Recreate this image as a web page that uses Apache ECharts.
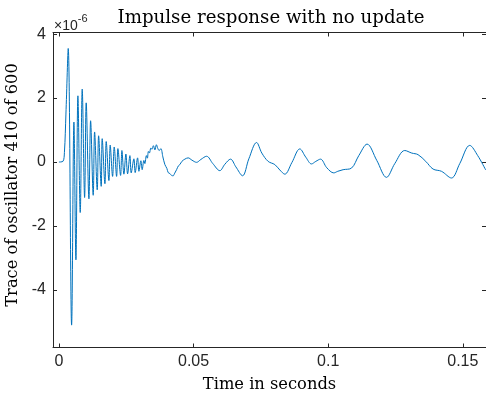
<!DOCTYPE html>
<html>
<head>
<meta charset="utf-8">
<script src="https://cdn.jsdelivr.net/npm/echarts@6/dist/echarts.min.js"></script>
<style>html,body{margin:0;padding:0;background:#fff;}#c{width:486px;height:393px;}</style>
</head>
<body>
<div id="c"></div>
<script>
// time (s)
var timeS = [0,0.00148,0.00204,0.00260,0.00345,0.00471,0.00557,0.00631,0.00705,0.00791,0.00865,0.00954,0.01013,0.01114,0.01177,0.01273,0.01325,0.01422,0.01474,0.01570,0.01607,0.01708,0.01756,0.01856,0.01904,0.01993,0.02053,0.02142,0.02190,0.02290,0.02339,0.02413,0.02487,0.02550,0.02636,0.02684,0.02784,0.02832,0.02921,0.02970,0.03044,0.03092,0.03155,0.03192,0.03248,0.03285,0.03322,0.03359,0.03415,0.03452,0.03508,0.03564,0.03619,0.03675,0.03723,0.03786,0.03860,0.03935,0.04009,0.04057,0.04120,0.04183,0.04243,0.04287,0.04369,0.04436,0.04492,0.04566,0.04677,0.04800,0.04937,0.05111,0.05271,0.05483,0.05716,0.05976,0.06162,0.06373,0.06570,0.06819,0.07053,0.07339,0.07535,0.07769,0.08018,0.08204,0.08389,0.08649,0.08946,0.09169,0.09380,0.09540,0.09714,0.09948,0.10208,0.10356,0.10553,0.10865,0.11136,0.11444,0.11804,0.12164,0.12472,0.12844,0.13103,0.13337,0.13623,0.13894,0.14206,0.14577,0.14885,0.15256,0.15553,0.15850];
// trace value, in units of 1e-6
var traceE6 = [0,0.02,0.3,1.5,3.55,-5.1,1.25,-3.06,2.07,-1.58,2.28,-1.11,1.85,-1.15,1.29,-1.04,0.94,-0.87,0.82,-0.76,0.73,-0.68,0.64,-0.58,0.53,-0.45,0.47,-0.45,0.42,-0.42,0.36,-0.38,0.25,-0.37,0.2,-0.34,0.1,-0.33,0.13,-0.29,0.04,-0.24,0.05,-0.05,0.2,0.12,0.33,0.28,0.44,0.4,0.51,0.38,0.54,0.42,0.36,0.42,0.16,-0.08,-0.2,-0.33,-0.36,-0.42,-0.43,-0.37,-0.24,-0.12,-0.08,0.02,0.09,0.13,0.06,-0.01,0.08,0.18,-0.05,-0.27,-0.07,0.09,-0.15,-0.43,0.1,0.61,0.28,0.02,-0.08,-0.25,-0.38,-0.02,0.41,0.15,-0.06,0.02,0.09,-0.18,-0.34,-0.29,-0.24,-0.19,0.2,0.56,0.05,-0.48,-0.05,0.36,0.28,0.23,0.02,-0.22,-0.29,-0.5,-0.05,0.52,0.2,-0.25];
var xTicks = [0, 0.05, 0.1, 0.15];
var yTicks = [-4, -2, 0, 2, 4];
var titleText = 'Impulse response with no update';
var xLabel = 'Time in seconds';
var yLabel = 'Trace of oscillator 410 of 600';

var pts = timeS.map(function (t, i) { return [t, traceE6[i]]; });
var axisColor = '#262626';
var chart = echarts.init(document.getElementById('c'), null, {renderer: 'canvas'});
var serif = 'DejaVu Serif';
var sans = 'Liberation Sans';
function tickAxis(extra) {
  return Object.assign({
    type: 'value',
    axisLine: {show: true, onZero: false, lineStyle: {color: axisColor, width: 1}},
    axisTick: {show: true, inside: true, length: 4, lineStyle: {color: axisColor}},
    splitLine: {show: false},
    axisLabel: {show: false}
  }, extra);
}
chart.setOption({
  animation: false,
  backgroundColor: '#fff',
  title: {
    text: titleText, left: 266, top: 4, textAlign: 'center',
    textStyle: {fontFamily: serif, fontSize: 18.2, fontWeight: 'normal', color: '#000'}
  },
  grid: {left: 53, top: 32.5, width: 433, height: 315, containLabel: false, outerBoundsMode: 'none'},
  xAxis: [
    tickAxis({
      position: 'bottom', min: -0.0022, max: 0.1586,
      axisTick: {show: true, inside: true, length: 4, customValues: xTicks, lineStyle: {color: axisColor}},
      axisLabel: {show: true, customValues: xTicks, margin: 6, color: axisColor, fontFamily: sans, fontSize: 16,
        formatter: function (v) { return String(v); }},
      name: xLabel, nameLocation: 'middle', nameGap: 29,
      nameTextStyle: {fontFamily: serif, fontSize: 16.3, color: '#000'}
    }),
    tickAxis({
      position: 'top', min: -0.0022, max: 0.1586,
      axisTick: {show: true, inside: true, length: 4, customValues: xTicks, lineStyle: {color: axisColor}}
    })
  ],
  yAxis: [
    tickAxis({
      position: 'left', min: -5.8, max: 4.05,
      axisTick: {show: true, inside: true, length: 4, customValues: yTicks, lineStyle: {color: axisColor}},
      axisLabel: {show: true, customValues: yTicks, margin: 7, color: axisColor, fontFamily: sans, fontSize: 16,
        formatter: function (v) { return String(v); }},
      name: yLabel, nameLocation: 'middle', nameGap: 23, nameRotate: 90,
      nameTextStyle: {fontFamily: serif, fontSize: 16.3, color: '#000', padding: [0, 0, 0, 10]}
    }),
    tickAxis({
      position: 'right', min: -5.8, max: 4.05,
      axisTick: {show: true, inside: true, length: 4, customValues: yTicks, lineStyle: {color: axisColor}}
    })
  ],
  graphic: [{
    type: 'text', left: 54, top: 13,
    style: {
      text: '{a|×10}{b|-6}',
      rich: {
        a: {fontFamily: sans, fontSize: 14, fill: axisColor, padding: [6, 0, 0, 0]},
        b: {fontFamily: sans, fontSize: 11, fill: axisColor, verticalAlign: 'top'}
      }
    }
  }],
  series: [{
    type: 'line', xAxisIndex: 0, yAxisIndex: 0,
    data: pts, showSymbol: false, smooth: 0.35,
    lineStyle: {color: '#0072BD', width: 1},
    clip: true
  }]
});
</script>
</body>
</html>
